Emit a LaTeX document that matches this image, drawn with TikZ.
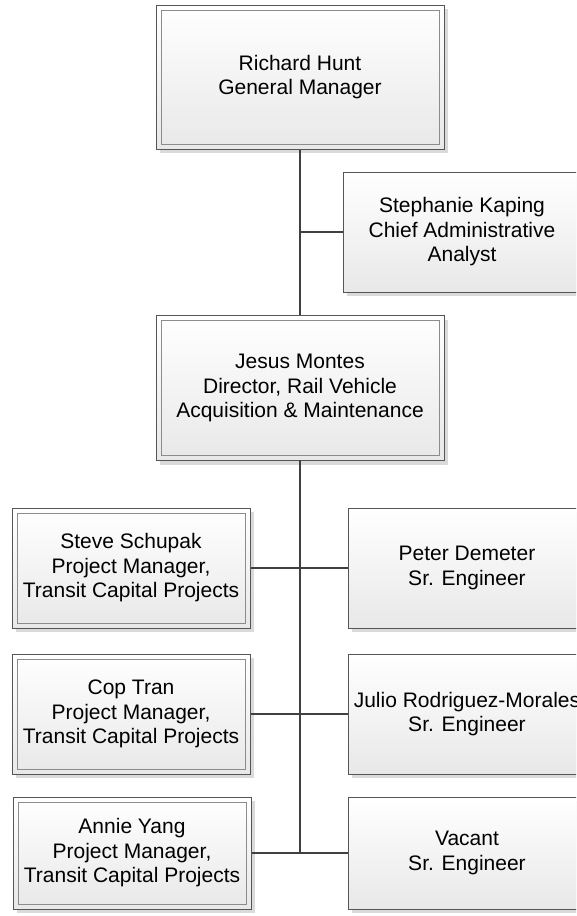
\documentclass[tikz,border=0pt]{standalone}
\usepackage{fontspec}
\setmainfont{Liberation Sans}
\usetikzlibrary{shadows}
\definecolor{LineGray}{RGB}{64,64,64}
\definecolor{EdgeGray}{RGB}{85,85,85}
\definecolor{InnerGray}{RGB}{140,140,140}
\definecolor{FillGray}{RGB}{232,232,232}
\definecolor{ShadowGray}{RGB}{218,218,218}
\begin{document}
\begin{tikzpicture}[x=1pt, y=-1pt,
    orgbox/.style={rectangle, draw=EdgeGray, line width=1pt, top color=white, bottom color=FillGray,
      minimum width=238pt, minimum height=120pt, inner sep=0pt, align=center,
      font=\fontsize{21}{24.5}\selectfont,
      drop shadow={shadow xshift=4pt, shadow yshift=-4pt, fill=ShadowGray, opacity=1}},
    dblbox/.style={orgbox, path picture={\draw[InnerGray, line width=1pt]
      ([shift={(5pt,-5pt)}]path picture bounding box.north west) rectangle
      ([shift={(-5pt,5pt)}]path picture bounding box.south east);}},
    conn/.style={draw=LineGray, line width=2pt}]
  \useasboundingbox (0,0) rectangle (576,916);
  \clip (0,0) rectangle (576,916);
  % top of the chart
  \node[dblbox, minimum width=288pt, minimum height=144pt] (hunt) at (300,77) {Richard Hunt\\General Manager};
  \node[orgbox] (kaping) at (462,232) {Stephanie Kaping\\Chief Administrative\\Analyst};
  \node[dblbox, minimum width=288pt, minimum height=145pt] (montes) at (300,388) {Jesus Montes\\Director, Rail Vehicle\\Acquisition \& Maintenance};
  % left column
  \node[dblbox] (schupak) at (131,568) {Steve Schupak\\Project Manager,\\Transit Capital Projects};
  \node[dblbox] (tran) at (131,714) {Cop Tran\\Project Manager,\\Transit Capital Projects};
  \node[dblbox, minimum height=112pt] (yang) at (132,853) {Annie Yang\\Project Manager,\\Transit Capital Projects};
  % right column
  \node[orgbox] (demeter) at (467,568) {Peter Demeter\\Sr. Engineer};
  \node[orgbox] (rodriguez) at (467,714) {Julio Rodriguez-Morales\\Sr. Engineer};
  \node[orgbox, minimum height=112pt] (vacant) at (467,853) {Vacant\\Sr. Engineer};
  % connectors
  \coordinate (tap) at (hunt.south |- kaping.west);
  \coordinate (trunkend) at (montes.south |- yang.east);
  \draw[conn] (hunt.south) -- (montes.north);
  \draw[conn] (tap) -- (kaping.west);
  \draw[conn, line cap=rect] (montes.south) -- (trunkend);
  \draw[conn] (schupak.east) -- (demeter.west);
  \draw[conn] (tran.east) -- (rodriguez.west);
  \draw[conn] (yang.east) -- (vacant.west);
\end{tikzpicture}
\end{document}
